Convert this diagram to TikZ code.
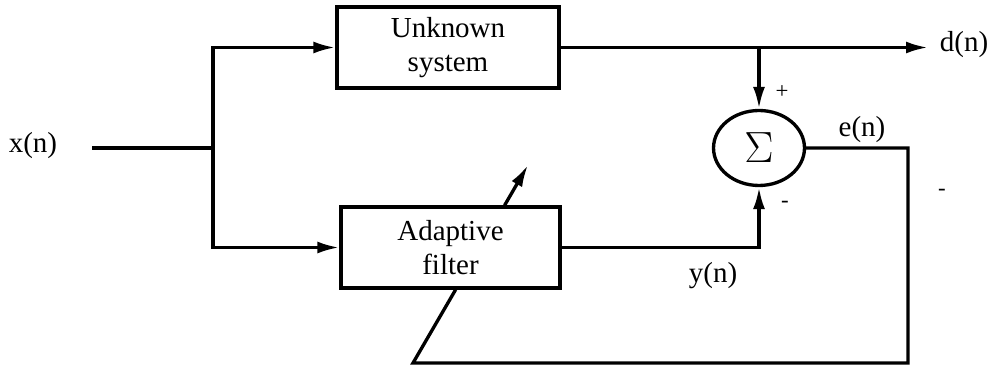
\documentclass[tikz,border=0pt]{standalone}
\usepackage{fontspec}
\setmainfont{Liberation Serif}
\usetikzlibrary{arrows.meta,shapes.geometric}
\begin{document}
\begin{tikzpicture}[x=0.02cm,y=-0.02cm,
  >={Latex[length=4.4mm,width=2.4mm]},
  wire/.style={line width=1.9pt},
  block/.style={draw,line width=1.9pt,rectangle,minimum height=1.62cm,inner sep=0pt,
    align=center,font=\fontsize{16.5}{19.5}\selectfont},
  summer/.style={draw,line width=1.9pt,ellipse,minimum width=1.82cm,minimum height=1.5cm,inner sep=0pt},
  lbl/.style={font=\fontsize{16.5}{19}\selectfont,inner sep=1pt},
  sgn/.style={font=\fontsize{13}{13}\selectfont,inner sep=1pt}]
\useasboundingbox (0,0) rectangle (993,371);

% blocks
\node[block,minimum width=4.44cm] (unk) at (448,47.5) {Unknown\\system};
\node[block,minimum width=4.38cm] (ada) at (450.5,247.5) {Adaptive\\filter};
\node[summer] (sum) at (759,148) {\fontsize{24}{24}\selectfont$\Sigma$};

% signal labels
\node[lbl] (xl) at (33,146) {x(n)};
\node[lbl] (dl) at (964,45) {d(n)};
\node[lbl] (el) at (862,130) {e(n)};
\node[lbl] (yl) at (713,276) {y(n)};
\node[sgn] (pl) at (782,92) {+};
\node[sgn] (ml) at (785,204) {-};
\node[sgn] (dash) at (942,192) {-};

% routing points
\coordinate (xin) at (92,148);
\coordinate (split) at (213,148);
\coordinate (dtip) at (928,47.5);
\coordinate (jn) at (sum.north |- unk.east);
\coordinate (fbr) at (908,363);
\coordinate (fbl) at (413,363);
\coordinate (tip) at (528,165);

% input and branches
\draw[wire] (xin) -- (split);
\draw[wire,->] (split) |- (unk.west);
\draw[wire,->] (split) |- (ada.west);

% desired output
\draw[wire,->] (unk.east) -- (dtip);
\draw[wire,->] (jn) -- (sum.north);

% filter output
\draw[wire,->] (ada.east) -| (sum.south);

% error feedback; the adjustment arrow passes behind the adaptive filter
\draw[wire] (sum.east) -| (fbr) -- (fbl)
  -- (intersection of fbl--tip and ada.south west--ada.south east);
\draw[wire,->] (intersection of fbl--tip and ada.north west--ada.north east) -- (tip);
\end{tikzpicture}
\end{document}
